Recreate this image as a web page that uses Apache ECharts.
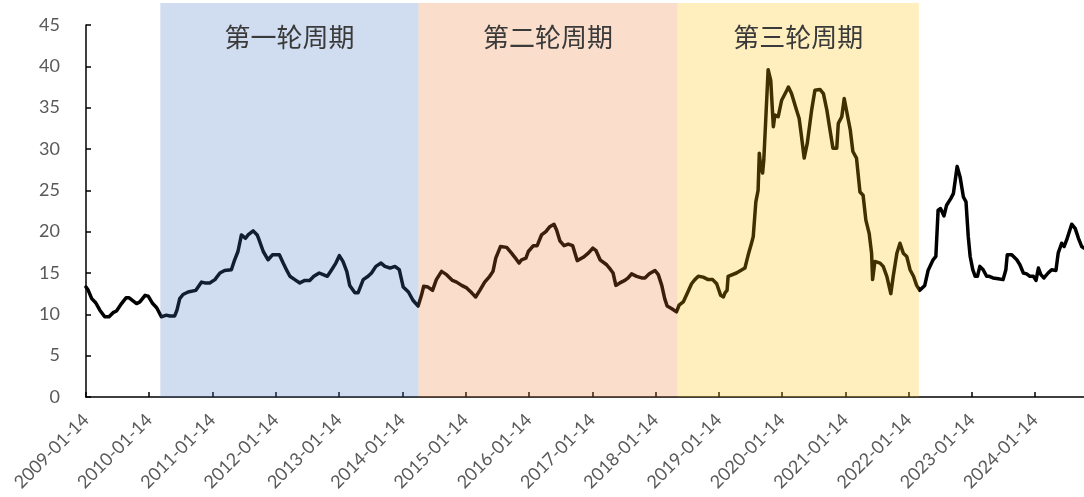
<!DOCTYPE html>
<html>
<head>
<meta charset="utf-8">
<script src="https://cdn.jsdelivr.net/npm/echarts@6/dist/echarts.min.js"></script>
<style>
  html, body { margin: 0; padding: 0; background: #fff; }
  #chart { width: 1084px; height: 497px; }
</style>
</head>
<body>
<div id="chart"></div>
<script>
// Observation dates and values of the series
const dates = [
  '2009-01-14','2009-01-27','2009-02-16','2009-03-11','2009-04-04','2009-05-02','2009-05-27','2009-06-19','2009-07-09','2009-08-07',
  '2009-09-02','2009-09-20','2009-11-02','2009-11-21','2009-12-21','2010-01-08','2010-02-03','2010-02-26','2010-03-25','2010-04-23',
  '2010-05-12','2010-06-10','2010-06-23','2010-07-09','2010-07-28','2010-08-26','2010-10-10','2010-11-12','2010-12-01','2010-12-29',
  '2011-01-28','2011-02-26','2011-03-25','2011-05-03','2011-05-22','2011-06-10','2011-06-30','2011-07-24','2011-08-07','2011-09-06',
  '2011-09-29','2011-10-10','2011-11-03','2011-12-01','2011-12-26','2012-02-04','2012-02-26','2012-03-16','2012-04-05','2012-05-03',
  '2012-06-01','2012-06-30','2012-07-28','2012-08-21','2012-09-21','2012-10-14','2012-11-07','2012-12-02','2012-12-26','2013-01-15',
  '2013-02-05','2013-02-27','2013-03-16','2013-04-15','2013-05-03','2013-06-02','2013-06-30','2013-07-20','2013-08-14','2013-09-13',
  '2013-10-05','2013-11-04','2013-12-02','2013-12-27','2014-01-19','2014-02-18','2014-03-16','2014-04-15','2014-05-04','2014-05-17',
  '2014-06-11','2014-07-07','2014-07-29','2014-08-28','2014-09-26','2014-10-30','2014-11-23','2014-12-22','2015-01-20','2015-02-18',
  '2015-03-13','2015-04-06','2015-05-04','2015-06-02','2015-06-21','2015-07-07','2015-08-03','2015-09-08','2015-10-06','2015-10-25',
  '2015-11-18','2015-12-03','2015-12-28','2016-01-11','2016-02-09','2016-03-02','2016-03-27','2016-04-21','2016-05-14','2016-06-07',
  '2016-06-22','2016-07-11','2016-08-04','2016-08-28','2016-09-23','2016-10-19','2016-11-23','2016-12-22','2017-01-17','2017-02-05',
  '2017-02-28','2017-04-07','2017-04-30','2017-05-14','2017-05-30','2017-06-22','2017-07-21','2017-08-09','2017-08-29','2017-09-27',
  '2017-10-26','2017-11-14','2017-12-09','2018-01-11','2018-01-30','2018-02-19','2018-03-08','2018-03-22','2018-04-16','2018-05-15',
  '2018-05-30','2018-06-23','2018-07-15','2018-08-10','2018-08-29','2018-09-18','2018-10-16','2018-11-14','2018-12-10','2019-01-02',
  '2019-01-25','2019-02-10','2019-02-19','2019-03-03','2019-03-09','2019-04-26','2019-06-14','2019-07-03','2019-07-22','2019-08-01',
  '2019-08-16','2019-08-29','2019-09-05','2019-09-13','2019-09-24','2019-10-01','2019-10-13','2019-10-26','2019-11-10','2019-11-25',
  '2019-12-04','2019-12-23','2020-01-12','2020-02-11','2020-02-20','2020-03-09','2020-04-04','2020-04-22','2020-05-02','2020-05-21',
  '2020-06-08','2020-07-03','2020-07-22','2020-08-20','2020-09-09','2020-09-29','2020-10-17','2020-11-03','2020-11-25','2020-12-04',
  '2020-12-24','2021-01-07','2021-01-18','2021-02-11','2021-02-26','2021-03-09','2021-03-19','2021-04-08','2021-04-26','2021-05-12',
  '2021-05-31','2021-06-14','2021-06-20','2021-07-03','2021-08-02','2021-08-20','2021-09-10','2021-10-03','2021-10-17','2021-11-07',
  '2021-11-25','2021-12-14','2022-01-03','2022-01-22','2022-02-11','2022-03-01','2022-03-19','2022-04-17','2022-05-06','2022-06-04',
  '2022-06-20','2022-07-03','2022-07-17','2022-08-06','2022-08-21','2022-09-14','2022-09-29','2022-10-21','2022-11-07','2022-11-26',
  '2022-12-11','2022-12-24','2023-01-04','2023-01-19','2023-02-02','2023-02-15','2023-03-01','2023-03-20','2023-04-09','2023-04-24',
  '2023-05-16','2023-06-15','2023-07-13','2023-07-29','2023-08-06','2023-09-01','2023-09-30','2023-10-18','2023-11-07','2023-11-26',
  '2023-12-15','2024-01-04','2024-01-19','2024-02-02','2024-02-16','2024-03-05','2024-03-29','2024-04-18','2024-05-13','2024-05-26',
  '2024-06-15','2024-06-29','2024-07-14','2024-08-12','2024-09-01','2024-09-20','2024-10-09','2024-10-22'
];
const values = [
  13.3,12.9,11.9,11.4,10.5,9.7,9.7,10.2,10.4,11.3,
  12.0,12.0,11.3,11.5,12.3,12.2,11.3,10.8,9.7,9.9,
  9.8,9.8,10.5,11.9,12.4,12.7,12.9,13.9,13.8,13.8,
  14.2,15.0,15.3,15.4,16.6,17.6,19.6,19.2,19.6,20.1,
  19.6,19.0,17.6,16.6,17.2,17.2,16.2,15.4,14.6,14.2,
  13.8,14.1,14.1,14.6,15.0,14.8,14.6,15.4,16.2,17.1,
  16.4,15.2,13.5,12.6,12.6,14.2,14.6,15.0,15.8,16.2,
  15.8,15.6,15.8,15.4,13.3,12.7,11.7,11.0,12.3,13.4,
  13.3,12.9,14.2,15.2,14.8,14.1,13.9,13.5,13.2,12.6,
  12.1,12.9,13.9,14.6,15.2,16.8,18.2,18.1,17.4,16.9,
  16.2,16.6,16.8,17.6,18.3,18.3,19.6,20.0,20.6,20.9,
  20.2,18.9,18.3,18.5,18.3,16.5,16.9,17.4,18.0,17.7,
  16.6,16.0,15.4,15.0,13.5,13.8,14.1,14.4,14.9,14.6,
  14.4,14.4,14.9,15.3,14.8,13.5,11.9,11.0,10.7,10.3,
  11.1,11.5,12.5,13.7,14.2,14.6,14.5,14.2,14.2,13.7,
  12.3,12.1,12.6,12.9,14.6,15.0,15.6,17.2,18.6,19.4,
  23.6,25.0,29.5,27.9,27.1,28.7,33.9,39.6,38.3,32.7,
  34.1,33.9,35.9,37.1,37.5,36.7,34.9,33.7,32.1,28.9,
  30.7,34.7,37.1,37.2,36.7,34.7,32.3,30.1,30.1,33.1,
  33.9,36.1,35.9,32.3,29.7,29.7,28.9,24.8,24.4,21.4,
  19.8,17.4,14.2,16.4,16.2,15.8,14.6,12.5,14.6,17.4,
  18.6,17.4,17.0,15.4,14.6,13.5,12.9,13.5,15.3,16.6,
  17.0,22.6,22.8,21.9,23.2,24.0,24.6,27.9,26.6,24.2,
  23.6,19.4,17.0,15.4,14.6,14.6,15.8,15.4,14.6,14.6,
  14.4,14.3,14.2,15.4,17.2,17.2,16.6,16.0,15.0,14.9,
  14.6,14.6,14.1,15.6,14.8,14.4,15.0,15.4,15.3,17.4,
  18.6,18.2,19.0,20.9,20.4,19.2,18.2,18.0
];

// Axis tick dates (one per year)
const tickDates = [
  '2009-01-14','2010-01-14','2011-01-14','2012-01-14','2013-01-14','2014-01-14','2015-01-14','2016-01-14',
  '2017-01-14','2018-01-14','2019-01-14','2020-01-14','2021-01-14','2022-01-14','2023-01-14','2024-01-14'
];
const axisStart = '2009-01-14';
const axisEnd = '2024-10-22';

// Cycle periods: names, start and end dates
const cycleNames = ['第一轮周期', '第二轮周期', '第三轮周期'];
const cycleStarts = ['2010-03-19', '2014-04-17', '2018-05-21'];
const cycleEnds = ['2014-04-17', '2018-05-21', '2022-03-14'];
const cycleColors = ['rgba(68,114,196,0.25)', 'rgba(237,125,49,0.25)', 'rgba(255,192,0,0.25)'];

// Dates are placed on a numeric axis as UTC day timestamps
const parse = s => Date.parse(s + 'T00:00:00Z');
const pad = n => (n < 10 ? '0' : '') + n;
const fmt = v => {
  const d = new Date(v);
  return d.getUTCFullYear() + '-' + pad(d.getUTCMonth() + 1) + '-' + pad(d.getUTCDate());
};
const lineData = dates.map((d, i) => [parse(d), values[i]]);
const tickValues = tickDates.map(parse);

const chart = echarts.init(document.getElementById('chart'), null, { renderer: 'canvas' });

const axisFont = 'Lato, "Noto Sans", sans-serif';

chart.setOption({
  animation: false,
  backgroundColor: '#ffffff',
  grid: [
    { left: 86, right: 0, top: 25, bottom: 100, containLabel: false, outerBoundsMode: 'none' },
    { left: 86, right: 0, top: 3, bottom: 100, containLabel: false, outerBoundsMode: 'none' }
  ],
  xAxis: [
    {
      type: 'value',
      gridIndex: 0,
      min: parse(axisStart),
      max: parse(axisEnd),
      axisLine: { show: true, onZero: false, lineStyle: { color: '#000', width: 1.5 } },
      axisTick: { show: true, inside: true, length: 5, customValues: tickValues, lineStyle: { color: '#000', width: 1.5 } },
      axisLabel: {
        show: true,
        customValues: tickValues,
        rotate: 45,
        margin: 20,
        color: '#595959',
        fontSize: 18,
        fontFamily: axisFont,
        formatter: v => fmt(v)
      },
      splitLine: { show: false }
    },
    {
      type: 'value',
      gridIndex: 1,
      min: parse(axisStart),
      max: parse(axisEnd),
      show: false
    }
  ],
  yAxis: [
    {
      type: 'value',
      gridIndex: 0,
      min: 0,
      max: 45,
      interval: 5,
      axisLine: { show: true, lineStyle: { color: '#000', width: 1.5 } },
      axisTick: { show: true, inside: true, length: 5, lineStyle: { color: '#000', width: 1.5 } },
      axisLabel: { color: '#595959', fontSize: 18, fontFamily: axisFont, margin: 26 },
      splitLine: { show: false }
    },
    { type: 'value', gridIndex: 1, min: 0, max: 1, show: false }
  ],
  series: [
    {
      type: 'line',
      xAxisIndex: 0,
      yAxisIndex: 0,
      data: lineData,
      symbol: 'none',
      z: 2,
      lineStyle: { color: '#000', width: 3.5, join: 'round', cap: 'round' }
    },
    {
      type: 'line',
      xAxisIndex: 1,
      yAxisIndex: 1,
      data: [],
      symbol: 'none',
      z: 5,
      markArea: {
        silent: true,
        z: 5,
        label: {
          show: true,
          position: 'insideTop',
          distance: 21,
          color: '#3a3a3a',
          fontSize: 26,
          fontFamily: '"Noto Sans CJK SC", sans-serif'
        },
        data: cycleNames.map((name, i) => [
          { name: name, xAxis: parse(cycleStarts[i]), yAxis: 0, itemStyle: { color: cycleColors[i] } },
          { xAxis: parse(cycleEnds[i]), yAxis: 1 }
        ])
      }
    }
  ]
});
</script>
</body>
</html>
